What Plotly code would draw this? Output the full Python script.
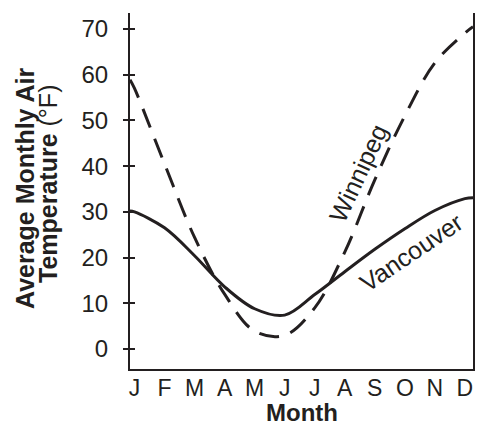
import plotly.graph_objects as go

month_labels = ["J", "F", "M", "A", "M", "J", "J", "A", "S", "O", "N", "D"]
month_pos = list(range(12))

# curve sample positions (month index; ends reach the plot edges)
curve_x = [-0.15, 0, 1, 2, 3, 4, 5, 6, 7, 8, 9, 10, 11, 11.27]
vancouver = [30.2, 30.0, 26.5, 20.4, 13.6, 8.8, 7.4, 11.9, 16.9, 21.8, 26.3, 30.3, 32.9, 33.1]
winnipeg = [58.9, 57.0, 40.5, 24.4, 12.0, 3.9, 3.0, 9.0, 21.2, 37.0, 51.0, 62.6, 69.1, 70.5]

y_ticks = [0, 10, 20, 30, 40, 50, 60, 70]

INK = "#231f20"
FONT = "Liberation Sans, Arial, sans-serif"

fig = go.Figure()
fig.add_trace(go.Scatter(x=curve_x, y=winnipeg, mode="lines",
                         line=dict(color=INK, width=3, dash="20px,12px", shape="spline", smoothing=1.0),
                         showlegend=False, hoverinfo="skip"))
fig.add_trace(go.Scatter(x=curve_x, y=vancouver, mode="lines",
                         line=dict(color=INK, width=3, shape="spline", smoothing=1.0),
                         showlegend=False, hoverinfo="skip"))

yr = [-4.38, 73.5]
fig.update_layout(
    width=480, height=428,
    margin=dict(l=130, r=7, t=13, b=59, autoexpand=False),
    paper_bgcolor="white", plot_bgcolor="white",
    font=dict(family=FONT, size=24, color=INK),
    xaxis=dict(range=[-0.15, 11.27], tickvals=month_pos, ticktext=month_labels,
               showgrid=False, zeroline=False, showline=True, linecolor=INK, linewidth=2,
               ticks="", ticklabelstandoff=-3, tickfont=dict(size=23)),
    yaxis=dict(range=yr, tickvals=y_ticks, showgrid=False, zeroline=False,
               showline=True, linecolor=INK, linewidth=2, mirror=True,
               ticks="outside", ticklen=5, tickwidth=2, tickcolor=INK,
               ticklabelstandoff=10, tickfont=dict(size=24)),
    yaxis2=dict(range=yr, tickvals=y_ticks, overlaying="y", side="left", anchor="x",
                showgrid=False, zeroline=False, showline=False, showticklabels=False,
                ticks="inside", ticklen=5, tickwidth=2, tickcolor=INK),
)
# invisible trace to activate yaxis2
fig.add_trace(go.Scatter(x=[0], y=[0], yaxis="y2", mode="markers", marker=dict(opacity=0),
                         showlegend=False, hoverinfo="skip"))

plot_top, plot_bottom = 13, 369
def py(p):
    return (plot_bottom - p) / (plot_bottom - plot_top)

fig.add_annotation(text="<b>Month</b>", xref="paper", yref="paper", x=0.5, y=py(412),
                   xanchor="center", yanchor="middle", showarrow=False, font=dict(size=24))
fig.add_annotation(text="<b>Average Monthly Air</b>", xref="paper", yref="paper",
                   x=(25 - 130) / 343, y=py(188), xanchor="center", yanchor="middle",
                   textangle=-90, showarrow=False, font=dict(size=25))
fig.add_annotation(text="<b>Temperature</b> (°F)", xref="paper", yref="paper",
                   x=(48 - 130) / 343, y=py(184), xanchor="center", yanchor="middle",
                   textangle=-90, showarrow=False, font=dict(size=25))
fig.add_annotation(text="Winnipeg", x=7.45, y=38.5, xref="x", yref="y",
                   textangle=-65, showarrow=False, font=dict(size=25))
fig.add_annotation(text="Vancouver", x=9.22, y=21.3, xref="x", yref="y",
                   textangle=-34, showarrow=False, font=dict(size=25))

fig.write_html("out.html", config={"displayModeBar": False},
               post_script="document.body.style.margin='0';")
